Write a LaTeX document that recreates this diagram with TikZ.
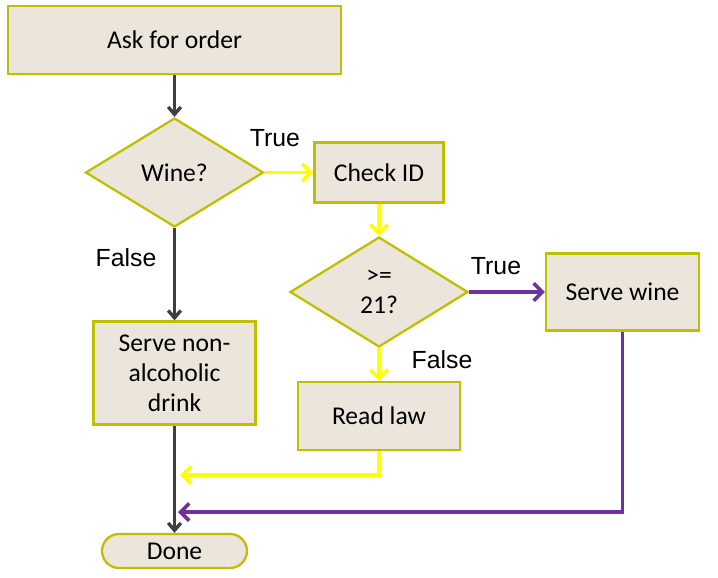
\documentclass[tikz,border=0pt]{standalone}
\usepackage{fontspec}
\setmainfont{Carlito}
\newfontfamily\labelfont{Liberation Sans}
\usetikzlibrary{shapes.geometric,arrows.meta}
\definecolor{boxfill}{HTML}{EBE5DC}
\definecolor{boxline}{HTML}{BFBF00}
\definecolor{flowyellow}{HTML}{FFFF00}
\definecolor{flowpurple}{HTML}{7030A0}
\definecolor{flowgray}{HTML}{3F3F3F}
\begin{document}
\begin{tikzpicture}[x=0.75pt, y=-0.75pt,
    box/.style={draw=boxline, fill=boxfill, line width=1.7pt, inner sep=0pt, align=center,
      font=\fontsize{19.2}{22.5}\selectfont},
    decision/.style={box, diamond},
    flow/.style={line width=2.7pt, -{Straight Barb[length=6.5pt,width=13pt]}},
    mainflow/.style={line width=2.5pt, -{Straight Barb[length=5.5pt,width=9.5pt]}, flowgray},
    lbl/.style={font=\labelfont\fontsize{18.6}{21}\selectfont}]
  \useasboundingbox (0,0) rectangle (718,578);
  % steps
  \node[box, minimum width=249.75pt, minimum height=51pt] (ask) at (174.5,40) {Ask for order};
  \node[decision, minimum width=133.5pt, minimum height=81.75pt] (wine) at (174.5,172.5) {Wine?};
  \node[box, minimum width=96.75pt, minimum height=45pt] (check) at (379,172.5) {Check ID};
  \node[decision, minimum width=133.5pt, minimum height=82.5pt] (age) at (379,292) {>=\\21?};
  \node[box, minimum width=114.75pt, minimum height=57.75pt] (serve) at (622.5,292) {Serve wine};
  \node[box, minimum width=121.5pt, minimum height=77.25pt] (nonalc) at (174.5,373) {Serve non-\\alcoholic\\drink};
  \node[box, minimum width=121.5pt, minimum height=51pt] (law) at (379,416) {Read law};
  \node[box, minimum width=108.75pt, minimum height=25.5pt, rounded corners=12.75pt] (done) at (174.5,551) {Done};
  % branch labels
  \node[lbl] (wineyes) at (275,138) {True};
  \node[lbl] (wineno) at (126,258) {False};
  \node[lbl] (ageyes) at (496,266) {True};
  \node[lbl] (ageno) at (442,360) {False};
  % connectors
  \coordinate (yin) at (180,475);
  \coordinate (pin) at (178,512);
  \draw[mainflow] (ask) -- (wine);
  \draw[flow, flowyellow] (wine) -- (check);
  \draw[flow, flowyellow] (check) -- (age);
  \draw[flow, flowpurple] (age) -- (serve);
  \draw[mainflow] (wine) -- (nonalc);
  \draw[flow, flowyellow] (age) -- (law);
  \draw[mainflow] (nonalc) -- (done);
  \draw[flow, flowyellow] (law.south) |- (yin);
  \draw[flow, flowpurple] (serve.south) |- (pin);
\end{tikzpicture}
\end{document}
